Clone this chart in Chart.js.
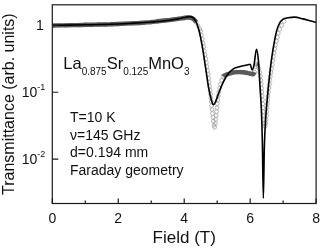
<!DOCTYPE html>
<html>
<head>
<meta charset="utf-8">
<script src="https://cdn.jsdelivr.net/npm/chart.js@4.4.0/dist/chart.umd.min.js"></script>
<style>
  html, body { margin: 0; padding: 0; background: #fff; }
  #wrap { width: 327px; height: 249px; }
</style>
</head>
<body>
<div id="wrap"><canvas id="c" width="327" height="249"></canvas></div>
<script>
// fitted curve (solid black line)
const fitField = [0, 0.5, 1, 1.5, 2, 2.5, 3, 3.5, 3.8, 4.0, 4.15, 4.25, 4.35, 4.45, 4.55, 4.65, 4.75, 4.82, 4.88, 4.95,
  5.05, 5.15, 5.3, 5.5, 5.7, 5.9, 6.0, 6.06, 6.12, 6.19, 6.25, 6.3, 6.34, 6.37, 6.40, 6.43, 6.47, 6.51, 6.56, 6.61,
  6.66, 6.71, 6.8, 6.9, 7.0, 7.15, 7.35, 7.6, 7.85, 8.0];
const fitTrans = [1.0, 1.01, 1.02, 1.03, 1.05, 1.08, 1.12, 1.18, 1.25, 1.31, 1.35, 1.32, 1.16, 0.84, 0.48, 0.23, 0.11, 0.078, 0.065, 0.072,
  0.098, 0.13, 0.18, 0.225, 0.242, 0.255, 0.262, 0.215, 0.26, 0.44, 0.3, 0.12, 0.055, 0.018, 0.0026, 0.015, 0.04, 0.071, 0.13, 0.22,
  0.34, 0.49, 0.82, 1.1, 1.24, 1.3, 1.33, 1.25, 1.16, 1.11];

// measured points (open circles)
const dataField = [0, 0.2, 0.4, 0.6, 0.8, 1.0, 1.2, 1.4, 1.6, 1.8, 2.0, 2.2, 2.4, 2.6, 2.8, 3.0, 3.2, 3.4, 3.6, 3.8,
  4.0, 4.1, 4.2, 4.3, 4.36, 4.42, 4.47,
  4.498, 4.521, 4.545, 4.569, 4.590, 4.610, 4.631, 4.652, 4.673, 4.690, 4.708, 4.726, 4.741, 4.756, 4.770, 4.785,
  4.797, 4.809, 4.821, 4.833, 4.844, 4.856, 4.871, 4.886, 4.901, 4.924,
  4.945, 4.957, 4.969, 4.981, 4.993, 5.004, 5.019, 5.034, 5.052, 5.073, 5.099, 5.135, 5.182, 5.236,
  5.3, 5.4, 5.5, 5.6, 5.7, 5.8, 5.9, 6.0, 6.08, 6.13, 6.17, 6.2, 6.23,
  6.267, 6.290, 6.311, 6.326, 6.338, 6.347, 6.356, 6.364, 6.373, 6.382, 6.391, 6.400, 6.409, 6.418, 6.430, 6.450,
  6.474, 6.486, 6.495, 6.504, 6.513, 6.521, 6.533, 6.545, 6.557, 6.569, 6.584, 6.599, 6.613, 6.631, 6.649, 6.667,
  6.684, 6.705, 6.726, 6.747, 6.770, 6.797, 6.824, 6.853, 6.895, 6.954, 7.028];
const dataTrans = [0.99, 1.0, 1.0, 1.01, 1.01, 1.02, 1.02, 1.03, 1.03, 1.04, 1.05, 1.06, 1.07, 1.08, 1.1, 1.12, 1.15, 1.18, 1.21, 1.25,
  1.29, 1.31, 1.3, 1.22, 1.12, 0.98, 0.88,
  0.817, 0.713, 0.623, 0.545, 0.476, 0.416, 0.363, 0.317, 0.277, 0.242, 0.212, 0.185, 0.162, 0.141, 0.123, 0.108,
  0.094, 0.082, 0.072, 0.063, 0.055, 0.048, 0.042, 0.037, 0.032, 0.030,
  0.0342, 0.0391, 0.0448, 0.0513, 0.0587, 0.0671, 0.0768, 0.088, 0.1007, 0.1152, 0.1319, 0.151, 0.1728, 0.178,
  0.185, 0.192, 0.198, 0.2, 0.2, 0.199, 0.195, 0.19, 0.186, 0.2, 0.24, 0.26, 0.25,
  0.226, 0.198, 0.173, 0.151, 0.132, 0.115, 0.101, 0.088, 0.077, 0.067, 0.0587, 0.0513, 0.0448, 0.0391, 0.0342, 0.0309,
  0.0342, 0.0391, 0.0448, 0.0513, 0.0587, 0.0671, 0.0768, 0.088, 0.1007, 0.1152, 0.1319, 0.151, 0.1728, 0.198, 0.226, 0.259,
  0.297, 0.340, 0.389, 0.445, 0.509, 0.582, 0.667, 0.763, 0.874, 1.0, 1.145];

const xTicks = [0, 2, 4, 6, 8];
const xMinorTicks = [1, 3, 5, 7];
const yTicks = [1, 0.1, 0.01];
const yTickExp = ['', '-1', '-2'];

const FONT = '"Liberation Sans", Arial, Helvetica, sans-serif';
const BAND = '#5a5a5a';

function pts(xs, ys) {
  return xs.map((v, i) => ({ x: v, y: ys[i] }));
}

// where the curve is flat the overlapping circles read as one grey band
function flat(c) {
  return Math.abs(c.p1.y - c.p0.y) <= Math.abs(c.p1.x - c.p0.x) + 0.6;
}

// frame, inward ticks, y labels with exponents, and the text annotations
const decor = {
  id: 'decor',
  afterDraw(chart) {
    const { ctx, chartArea: a, scales: { x, y } } = chart;
    ctx.save();
    ctx.strokeStyle = '#1a1a1a';
    ctx.lineWidth = 1.2;
    ctx.strokeRect(a.left, a.top, a.right - a.left, a.bottom - a.top);

    ctx.beginPath();
    xTicks.forEach(v => {
      const px = x.getPixelForValue(v);
      ctx.moveTo(px, a.bottom); ctx.lineTo(px, a.bottom - 5);
    });
    xMinorTicks.forEach(v => {
      const px = x.getPixelForValue(v);
      ctx.moveTo(px, a.bottom); ctx.lineTo(px, a.bottom - 3);
    });
    yTicks.forEach(v => {
      const py = y.getPixelForValue(v);
      ctx.moveTo(a.left, py); ctx.lineTo(a.left + 6, py);
    });
    ctx.stroke();

    ctx.fillStyle = '#111';
    ctx.textBaseline = 'alphabetic';
    yTicks.forEach((v, i) => {
      const py = y.getPixelForValue(v);
      ctx.font = '14px ' + FONT;
      ctx.textAlign = 'right';
      if (!yTickExp[i]) {
        ctx.fillText('1', a.left - 8.5, py + 5);
      } else {
        ctx.fillText('10', a.left - 15, py + 5);
        ctx.font = '9px ' + FONT;
        ctx.textAlign = 'left';
        ctx.fillText(yTickExp[i], a.left - 15, py - 2);
      }
    });

    // compound formula with subscripts
    ctx.textAlign = 'left';
    let cx = a.left + 11;
    const base = a.top + 64;
    [['La', 0], ['0.875', 1], ['Sr', 0], ['0.125', 1], ['MnO', 0], ['3', 1]].forEach(([t, sub]) => {
      ctx.font = (sub ? '10px ' : '16.5px ') + FONT;
      ctx.fillText(t, cx, sub ? base + 6.5 : base);
      cx += ctx.measureText(t).width;
    });

    ctx.font = '14px ' + FONT;
    ['T=10 K', 'ν=145 GHz', 'd=0.194 mm', 'Faraday geometry'].forEach((t, i) => {
      ctx.fillText(t, a.left + 17.7, a.top + 117.5 + i * 17.5);
    });
    ctx.restore();
  }
};

new Chart(document.getElementById('c'), {
  type: 'scatter',
  data: {
    datasets: [
      {
        label: 'fit',
        data: pts(fitField, fitTrans),
        showLine: true,
        borderColor: '#000',
        borderWidth: 1.6,
        pointRadius: 0,
        cubicInterpolationMode: 'monotone',
        order: 0
      },
      {
        label: 'band',
        data: pts(dataField, dataTrans),
        showLine: true,
        borderWidth: 4.4,
        borderColor: BAND,
        segment: { borderColor: c => flat(c) ? BAND : 'rgba(0,0,0,0)' },
        cubicInterpolationMode: 'monotone',
        pointRadius: 0,
        order: 1
      },
      {
        label: 'experiment',
        data: pts(dataField, dataTrans),
        showLine: false,
        pointStyle: 'circle',
        pointRadius: 1.9,
        pointBorderWidth: 0.8,
        pointBorderColor: '#a2a2a2',
        pointBackgroundColor: 'rgba(255,255,255,0)',
        order: 2
      }
    ]
  },
  options: {
    responsive: false,
    animation: false,
    devicePixelRatio: 1,
    layout: { padding: { top: 1, right: 4.7, left: 0, bottom: 0 } },
    plugins: { legend: { display: false }, tooltip: { enabled: false } },
    scales: {
      x: {
        type: 'linear',
        min: 0,
        max: 8,
        afterBuildTicks: s => { s.ticks = xTicks.map(v => ({ value: v })); },
        afterFit: s => { s.height = 45.5; },
        grid: { display: false, drawTicks: false },
        border: { display: false },
        ticks: { font: { size: 14, family: FONT }, color: '#111', padding: 7, autoSkip: false, maxRotation: 0 },
        title: { display: true, text: 'Field (T)', font: { size: 17, family: FONT }, color: '#111', padding: { top: 0, bottom: 0 } }
      },
      y: {
        type: 'logarithmic',
        min: 0.00217,
        max: 2.03,
        afterBuildTicks: s => { s.ticks = yTicks.map(v => ({ value: v })); },
        afterFit: s => { s.width = 52.3; },
        grid: { display: false, drawTicks: false },
        border: { display: false },
        ticks: { display: false },
        title: { display: true, text: 'Transmittance (arb. units)', font: { size: 16, family: FONT }, color: '#111', padding: { top: 0, bottom: 0 } }
      }
    }
  },
  plugins: [decor]
});
</script>
</body>
</html>
